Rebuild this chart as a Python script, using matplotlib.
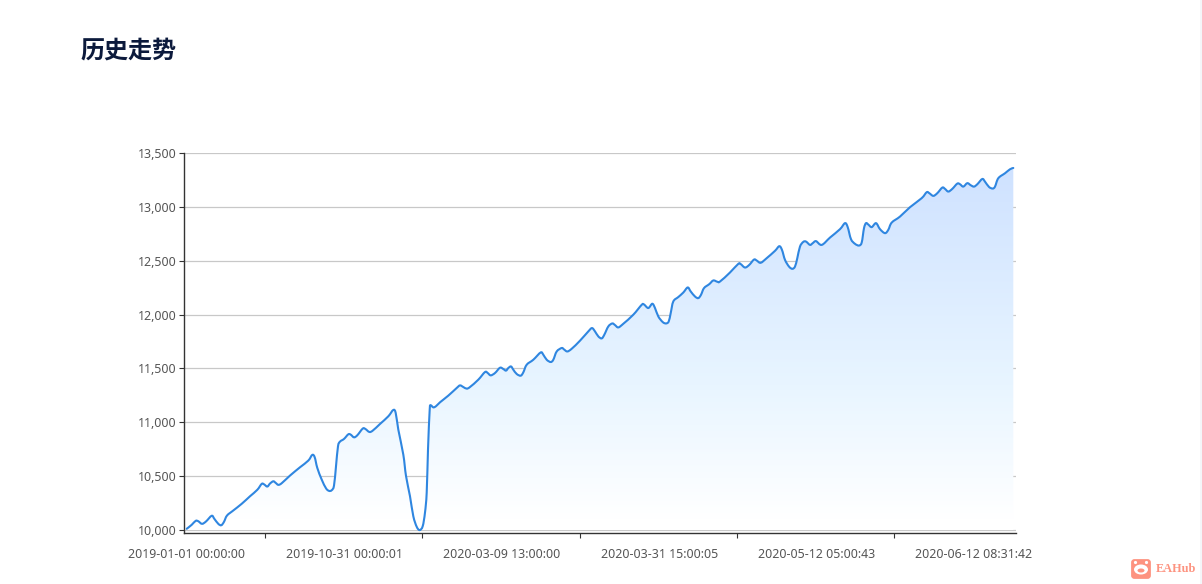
import numpy as np
import matplotlib
matplotlib.use("Agg")
import matplotlib.pyplot as plt
from matplotlib.path import Path
from matplotlib.patches import FancyBboxPatch, Ellipse, Rectangle, Circle, PathPatch

title = "历史走势"
x_labels = ["2019-01-01 00:00:00", "2019-10-31 00:00:01", "2020-03-09 13:00:00",
            "2020-03-31 15:00:05", "2020-05-12 05:00:43", "2020-06-12 08:31:42"]
y_ticks = [10000, 10500, 11000, 11500, 12000, 12500, 13000, 13500]

# position along the category axis, in samples
sample_pos = [
 2.7,7.7,11.7,14.3,18,22,27.7,30.3,34.3,37.3,
 40,43,49.3,57.7,66,73.3,77.7,80,83.3,86,
 89.3,91.7,94.3,97.7,106,116,124.3,128.3,130.7,133.3,
 137.7,142,145,147.7,150,152,154,156,160,164.3,
 166.7,170,173.3,178.7,181.3,185.3,188.7,196,204.3,209.3,
 211.7,214.3,219.3,222,226,229.3,232.7,235.7,238.7,241,
 242.7,244,245.7,246.7,249.3,252,256,264.3,272.7,276,
 279.3,282.7,286,294.3,301,303.7,306.7,311,316,319.3,
 322,324.3,327,329.3,332.7,336.7,339.3,342.7,349.3,356.7,
 359.3,362.7,366.7,369.3,372.7,377.7,380,383.3,387.7,396,
 404.3,408,411,414.3,417.7,420.3,424.3,428.3,431,434.3,
 439.3,449.3,457.7,460,464.3,468.3,471,474.3,478.7,482,
 484.7,486.7,489.3,494.3,499.3,503.7,506.7,511,514.3,517,
 520,525.3,529.3,533.3,536,546,554.3,556.7,561,565.3,
 570,572.7,576.7,582.7,591,595.3,598,601,605,608.3,
 611,613.3,616,619.3,622,626,628.7,632,637.7,646,
 656,661,663.7,667,671,675,677.7,680,682,684.3,
 687.7,692,696,701,704.3,707.7,716,726,737.7,742.7,
 745.3,749.3,753.3,758.3,761,764.3,768.3,773.3,776,779.3,
 783.3,786.7,790,793.3,798.3,801,805,808.7,811,814.3,
 821,826,829.3,
]
equity = [
 10012,10049,10086,10082,10058,10080,10133,10105,10058,10045,
 10077,10135,10182,10244,10314,10374,10429,10425,10404,10432,
 10453,10438,10420,10435,10506,10583,10645,10698,10676,10577,
 10469,10388,10364,10370,10413,10592,10778,10821,10846,10889,
 10886,10861,10880,10942,10939,10911,10923,10985,11056,11115,
 11087,10933,10701,10503,10314,10129,10031,10000,10036,10163,
 10348,10747,11118,11158,11139,11150,11186,11248,11319,11343,
 11328,11313,11328,11396,11467,11458,11436,11458,11507,11495,
 11480,11504,11519,11489,11449,11433,11464,11535,11581,11649,
 11628,11581,11560,11581,11658,11690,11677,11658,11683,11758,
 11844,11875,11844,11798,11779,11813,11890,11918,11903,11881,
 11915,11999,12091,12094,12061,12101,12061,11983,11931,11918,
 11936,12014,12122,12163,12205,12252,12215,12168,12153,12184,
 12246,12283,12317,12305,12307,12391,12471,12469,12437,12462,
 12511,12502,12481,12524,12592,12635,12600,12508,12446,12425,
 12446,12524,12632,12675,12678,12647,12663,12682,12647,12715,
 12793,12849,12812,12700,12657,12641,12669,12802,12849,12836,
 12812,12849,12793,12756,12787,12854,12910,12997,13081,13136,
 13127,13102,13127,13179,13167,13142,13167,13216,13210,13188,
 13220,13201,13188,13210,13259,13234,13185,13170,13188,13266,
 13312,13349,13361,
]
assert len(sample_pos) == len(equity)
sample_pos = np.array(sample_pos, float)
equity = np.array(equity, float)

def smooth_vertices(x, y, k=1/6):
    """Bezier control points for a smooth line through every data point."""
    p = np.column_stack([x, y])
    d = np.zeros_like(p)
    d[1:-1] = p[2:] - p[:-2]
    d[0] = p[1] - p[0]
    d[-1] = p[-1] - p[-2]
    verts = [p[0]]
    for i in range(len(p) - 1):
        verts += [p[i] + k * d[i], p[i + 1] - k * d[i + 1], p[i + 1]]
    return np.array(verts)

W, H = 1202, 584
plt.rcParams["font.family"] = ["Noto Sans", "DejaVu Sans"]
fig = plt.figure(figsize=(W/100, H/100), dpi=100, facecolor="white")
ax = fig.add_axes([184/W, 1-533/H, (1016-184)/W, (533-153)/H])
ax.set_axisbelow(True)

# gradient area
t = np.linspace(0, 1, 256)
stops_t = [0, 0.03, 0.4, 1]
stops_c = np.array([[255, 255, 255], [255, 255, 255], [232, 245, 255], [207, 226, 255]]) / 255
rgb = np.stack([np.interp(t, stops_t, stops_c[:, i]) for i in range(3)], axis=-1).reshape(-1, 1, 3)
im = ax.imshow(rgb, extent=[0, 832, 10000, equity.max()], origin="lower",
               aspect="auto", zorder=1, interpolation="bilinear")
verts = smooth_vertices(sample_pos, equity)
codes = [Path.MOVETO] + [Path.CURVE4] * (len(verts) - 1)
area_path = Path(
    np.vstack([verts, [sample_pos[-1], 10000], [sample_pos[0], 10000], verts[0]]),
    codes + [Path.LINETO, Path.LINETO, Path.CLOSEPOLY],
)
im.set_clip_path(area_path, transform=ax.transData)
ax.set_xlim(0, 832)
ax.set_ylim(9973, 13500)

ax.grid(axis="y", color="#c8c8c8", lw=0.9, zorder=2)
ax.add_patch(PathPatch(Path(verts, codes), fc="none", ec="#2f86e0", lw=1.5, zorder=3,
                       joinstyle="round", capstyle="round"))

for s in ("top", "right"):
    ax.spines[s].set_visible(False)
for s in ("left", "bottom"):
    ax.spines[s].set_color("#333333")
    ax.spines[s].set_linewidth(1)

ax.set_yticks(y_ticks)
ax.set_yticklabels([f"{v:,}" for v in y_ticks], fontsize=8.9, color="#555555")
ax.tick_params(axis="y", length=3.6, width=0.8, color="#333333", pad=2)

step = 157.4
label_pos = 3 + step * np.arange(len(x_labels))
ax.set_xticks(label_pos[:-1] + step / 2 - 1.0)
ax.set_xticklabels([])
ax.tick_params(axis="x", length=3.6, width=0.8, color="#333333")
for p, lab in zip(label_pos, x_labels):
    ax.annotate(lab, xy=(p, 0), xycoords=("data", "axes fraction"), xytext=(0, -21 * 0.72),
                textcoords="offset points", ha="center", va="center",
                fontsize=8.9, color="#555555", annotation_clip=False)

fig.text(80/W, 1-51/H, title, fontsize=17.3, fontweight="bold", color="#0c1a3c",
         family=["Noto Sans CJK SC", "DejaVu Sans"], va="center", ha="left")

# page scrollbar edge
fig.add_artist(Rectangle((1200/W, 0), 2/W, 1, transform=fig.transFigure, fc="#f4f6f9", ec="none"))

# watermark logo
logo = "#fd9380"
bg = fig.add_axes([0, 0, 1, 1], facecolor="none")
bg.set_xlim(0, W); bg.set_ylim(H, 0); bg.axis("off")
bg.add_patch(FancyBboxPatch((1132.5, 560.5), 17, 17, boxstyle="round,pad=0,rounding_size=2", fc=logo, ec=logo, lw=2))
bg.add_patch(Ellipse((1141, 569.5), 14, 10, fc="white", ec="none"))
bg.add_patch(Ellipse((1141, 570.5), 7, 4, fc=logo, ec="none"))
bg.add_patch(Circle((1135.5, 562.5), 1.6, fc="white", ec="none"))
bg.add_patch(Circle((1146.5, 562.5), 1.6, fc="white", ec="none"))
bg.text(1156, 569.5, "EAHub", fontsize=8.8, fontweight="bold", color=logo,
        family="Liberation Serif", va="center", ha="left")

fig.savefig("out.png", dpi=100, facecolor="white")
